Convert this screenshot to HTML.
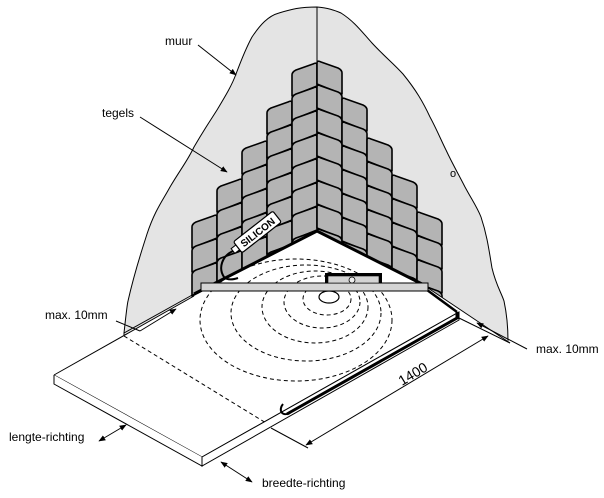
<!DOCTYPE html>
<html><head><meta charset="utf-8"><style>
html,body{margin:0;padding:0;background:#fff;}
svg{display:block;}
text{font-family:"Liberation Sans",sans-serif;font-size:12px;fill:#000;}
</style></head><body>
<svg id="s" width="604" height="498" viewBox="0 0 604 498" xmlns="http://www.w3.org/2000/svg">
<defs>
<marker id="a" viewBox="0 0 10 10" refX="9" refY="5" markerWidth="7" markerHeight="7" orient="auto-start-reverse"><path d="M0,1 L10,5 L0,9 z" fill="#000"/></marker>
</defs>
<!-- wall -->
<path d="M124,340 L124,333 C126,315 127,305 128,301 C135,270 142,250 147,234 C155,210 163,200 170,187 C180,170 188,160 194,147 C205,128 212,118 217,110 C226,95 232,85 236,74 C242,58 246,48 252,37 C260,25 268,16 279,13 C292,9 300,7 317,7 C328,8 334,10 341,13 C355,22 362,32 372,43 C384,56 394,64 403,74 C416,90 423,102 430,117 C437,130 441,140 446,150 C453,165 459,175 465,187 C472,200 477,207 481,217 C487,235 489,250 492,268 C496,285 501,292 504,301 C507,315 508,330 508,341 Z" fill="#e4e4e4" stroke="#000" stroke-width="1"/>
<line x1="317" y1="7" x2="317" y2="231" stroke="#000" stroke-width="1"/>
<g id="tiles"></g>
<!-- floor -->
<path d="M124,336 L194,296 L317,231 L422,284 L510,342 L510,498 L0,498 L0,336 Z" fill="#fff"/>
<path d="M194,294 L317,231 L422,284" fill="none" stroke="#000" stroke-width="3"/>
<line x1="422" y1="284" x2="510" y2="343" stroke="#000" stroke-width="1"/>
<line x1="124" y1="333" x2="194" y2="294" stroke="#000" stroke-width="1"/>
<!-- dashed -->
<g fill="none" stroke="#000" stroke-width="1" stroke-dasharray="4,3">
<ellipse cx="296" cy="320" rx="96" ry="61"/>
<ellipse cx="306" cy="313" rx="75" ry="48"/>
<ellipse cx="315" cy="307" rx="53" ry="36"/>
<ellipse cx="322" cy="302" rx="38" ry="26"/>
<ellipse cx="327" cy="299" rx="24" ry="16"/>
<line x1="124" y1="336" x2="271" y2="426"/>
</g>
<ellipse cx="329" cy="297" rx="10" ry="6" fill="#fff" stroke="#000" stroke-width="1.2"/>
<!-- plate -->
<path d="M54,375 L202,457 L459,312" fill="none" stroke="#000" stroke-width="1"/>
<path d="M54,375 L54,384 L202,466 L202,457" fill="#fff" stroke="#000" stroke-width="1"/>
<path d="M202,457 L459,312 L459,320 L202,466 Z" fill="#fff" stroke="#000" stroke-width="1"/>
<line x1="54" y1="375" x2="194" y2="296" stroke="#000" stroke-width="1"/>
<!-- silicone bead -->
<path d="M287,414 L457,318 L457,312" fill="none" stroke="#000" stroke-width="3"/>
<path d="M290,413 C282,417 278,410 283,404" fill="none" stroke="#000" stroke-width="2"/>
<line x1="423" y1="287" x2="457" y2="312" stroke="#000" stroke-width="2.5"/>
<!-- drain bar -->
<rect x="201" y="283" width="227" height="8" fill="#d4d4d4" stroke="#000" stroke-width="1"/>
<rect x="325" y="273" width="57" height="10" fill="#000"/>
<rect x="328" y="276" width="51" height="7" fill="#d4d4d4" stroke="#000" stroke-width="0.6"/>
<circle cx="352" cy="280" r="3" fill="#eee" stroke="#000" stroke-width="0.8"/>
<!-- silicone tube -->
<path d="M233,251 C222,256 218,268 224,277 C227,280 232,280 238,278" fill="none" stroke="#000" stroke-width="2"/>
<g transform="translate(233,251) rotate(-38)">
<rect x="0" y="-3" width="6" height="6" fill="#fff" stroke="#000" stroke-width="1"/>
<rect x="6" y="-7" width="50" height="14" rx="2" fill="#fff" stroke="#000" stroke-width="1.2"/>
<text x="31" y="4" text-anchor="middle" style="font-size:10px;font-weight:bold">SILICON</text>
</g>
<!-- dimension -->
<line x1="271" y1="428" x2="308" y2="448" stroke="#000"/>
<line x1="459" y1="318" x2="510" y2="343" stroke="#000"/>
<line x1="306" y1="445" x2="488" y2="336" stroke="#000" marker-start="url(#a)" marker-end="url(#a)"/>
<text transform="translate(402,386) rotate(-31)" style="font-size:14px">1400</text>
<!-- labels -->
<text x="165" y="45">muur</text>
<line x1="198" y1="45" x2="236" y2="75" stroke="#000" marker-end="url(#a)"/>
<text x="102" y="117">tegels</text>
<line x1="140" y1="117" x2="227" y2="172" stroke="#000" marker-end="url(#a)"/>
<text x="45" y="319">max. 10mm</text>
<line x1="116" y1="321" x2="140" y2="331" stroke="#000"/>
<line x1="140" y1="331" x2="176" y2="309" stroke="#000" marker-end="url(#a)"/>
<text x="536" y="353">max. 10mm</text>
<line x1="527" y1="349" x2="477" y2="323" stroke="#000" marker-end="url(#a)"/>
<text x="9" y="441">lengte-richting</text>
<line x1="99" y1="441" x2="126" y2="425" stroke="#000" marker-start="url(#a)" marker-end="url(#a)"/>
<text x="262" y="487">breedte-richting</text>
<line x1="221" y1="462" x2="252" y2="482" stroke="#000" marker-start="url(#a)" marker-end="url(#a)"/>
<text x="450" y="177" style="font-size:11px">o</text>
</svg>
<script>
(function(){
var g=document.getElementById('tiles'),h='';
var W=25,H=24,S=10;
var left=[[192,214],[217,178],[242,140],[267,100],[292,62]];
var right=[[317,60],[342,97],[367,137],[392,174],[417,211]];
function tile(x,y,dir){
  var a,b;
  if(dir>0){a=y+S;b=y;}else{a=y;b=y+S;}
  return '<path d="M'+x+','+(a+3)+' Q'+x+','+a+' '+(x+4)+','+(a-(dir>0?2:-2))+
   ' L'+(x+W-4)+','+(b+(dir>0?2:-2))+' Q'+(x+W)+','+b+' '+(x+W)+','+(b+3)+
   ' L'+(x+W)+','+(b+H)+' L'+x+','+(a+H)+' Z" fill="#b4b4b4" stroke="#000" stroke-width="1.6" stroke-linejoin="round"/>';
}
left.forEach(function(c){for(var y=c[1];y<300;y+=H)h+=tile(c[0],y,1);});
right.forEach(function(c){for(var y=c[1];y<300;y+=H)h+=tile(c[0],y,-1);});
g.innerHTML=h;
})();
</script>
</body></html>
